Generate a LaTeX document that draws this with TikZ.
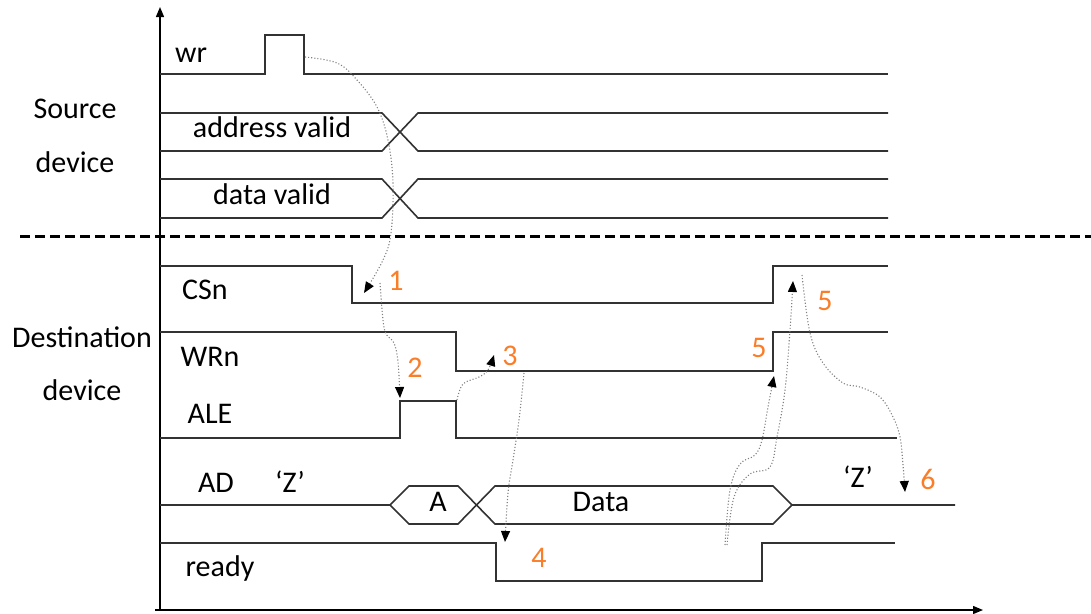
\documentclass[tikz,border=0pt]{standalone}
\usepackage{fontspec}
\setmainfont{Carlito}
\usetikzlibrary{arrows.meta}
\definecolor{numorange}{RGB}{250,125,40}
\definecolor{wavecol}{RGB}{50,50,50}
\begin{document}
\begin{tikzpicture}[x=1pt,y=-1pt,
  wave/.style={line width=1.6pt, draw=wavecol, line join=miter},
  axisline/.style={line width=1.3pt, draw=black, -{Triangle[length=10pt,width=8pt]}},
  dep/.style={draw=black!50, dotted, line width=1.1pt, -{Triangle[length=11pt,width=9pt,color=black]}},
  lbl/.style={font=\fontsize{30}{34}\selectfont, anchor=base, inner sep=0pt, text=black},
  num/.style={lbl, text=numorange}]
\useasboundingbox (0,0) rectangle (1091,613);
% axes
\coordinate (yb) at (160,610); \coordinate (yt) at (160,7);
\coordinate (xl) at (155,610); \coordinate (xr) at (983,610);
\draw[axisline] (yb) -- (yt);
\draw[axisline] (xl) -- (xr);
% separator
\coordinate (sepL) at (20,236); \coordinate (sepR) at (1091,236);
\draw[line width=3pt, dash pattern=on 10pt off 5pt] (sepL) -- (sepR);
% group labels
\node[lbl] (src1) at (75,118) {Source};
\node[lbl] (src2) at (75,172) {device};
\node[lbl] (dst1) at (82,347) {Destination};
\node[lbl] (dst2) at (82,400) {device};
% source waveforms
\draw[wave] (160,74) -- (265,74) -- (265,35) -- (304,35) -- (304,74) -- (888,74);
\node[lbl] (wr) at (191,62) {wr};
\draw[wave] (160,113) -- (382,113) -- (418,151) -- (888,151);
\draw[wave] (160,151) -- (382,151) -- (418,113) -- (888,113);
\node[lbl] (addr) at (272,137) {address valid};
\draw[wave] (160,179) -- (382,179) -- (418,218) -- (888,218);
\draw[wave] (160,218) -- (382,218) -- (418,179) -- (888,179);
\node[lbl] (data) at (272,204) {data valid};
% destination waveforms
\draw[wave] (160,266) -- (352,266) -- (352,303) -- (773,303) -- (773,266) -- (888,266);
\node[lbl] (csn) at (205,299) {CSn};
\draw[wave] (160,332) -- (456,332) -- (456,371) -- (773,371) -- (773,332) -- (888,332);
\node[lbl] (wrn) at (210,366) {WRn};
\draw[wave] (160,438) -- (400,438) -- (400,401) -- (456,401) -- (456,438) -- (897,438);
\node[lbl] (ale) at (210,423) {ALE};
% AD bus
\draw[wave] (160,505) -- (390,505) -- (409,486) -- (458,486) -- (495,524) -- (773,524) -- (792,505) -- (955,505);
\draw[wave] (390,505) -- (409,524) -- (458,524) -- (495,486) -- (773,486) -- (792,505);
\node[lbl] (ad) at (216,492) {AD};
\node[lbl] (z1) at (290,492) {‘Z’};
\node[lbl] (a) at (438,511) {A};
\node[lbl] (dat) at (601,511) {Data};
\node[lbl] (z2) at (858,487) {‘Z’};
% ready
\draw[wave] (160,543) -- (496,543) -- (496,581) -- (762,581) -- (762,543) -- (895,543);
\node[lbl] (ready) at (220,576) {ready};
% numbers
\node[num] (n1) at (396,290) {1};
\node[num] (n2) at (415,377) {2};
\node[num] (n3) at (510,365) {3};
\node[num] (n4) at (539,567) {4};
\node[num] (n5a) at (825,310) {5};
\node[num] (n5b) at (759,357) {5};
\node[num] (n6) at (928,489) {6};
% dependency arrows
\coordinate (d1s) at (305,57); \coordinate (d1e) at (364,293);
\draw[dep] plot[smooth, tension=0.6] coordinates {(d1s) (337,63) (357,80) (377,107) (388,140) (393,183) (391,233) (383,260) (d1e)};
\coordinate (d2s) at (380,283); \coordinate (d2e) at (400,398);
\draw[dep] plot[smooth, tension=0.6] coordinates {(d2s) (383,320) (386,334) (394,343) (398,362) (d2e)};
\coordinate (d3s) at (457,400); \coordinate (d3e) at (494,355);
\draw[dep] plot[smooth, tension=0.6] coordinates {(d3s) (463,384) (479,377) (488,370) (d3e)};
\coordinate (d4s) at (524,373); \coordinate (d4e) at (505,542);
\draw[dep] plot[smooth, tension=0.6] coordinates {(d4s) (519,420) (513,460) (508,493) (d4e)};
\coordinate (d5as) at (725,545); \coordinate (d5ae) at (774,376);
\draw[dep] plot[smooth, tension=0.6] coordinates {(d5as) (730,490) (740,464) (755,455) (762,440) (768,407) (d5ae)};
\coordinate (d5bs) at (727,545); \coordinate (d5be) at (793,281);
\draw[dep] plot[smooth, tension=0.6] coordinates {(d5bs) (734,497) (750,474) (770,467) (777,437) (785,390) (790,330) (d5be)};
\coordinate (d6s) at (802,275); \coordinate (d6e) at (905,492);
\draw[dep] plot[smooth, tension=0.6] coordinates {(d6s) (810,333) (823,363) (843,383) (860,387) (880,397) (893,417) (900,437) (903,465) (d6e)};
\end{tikzpicture}
\end{document}
